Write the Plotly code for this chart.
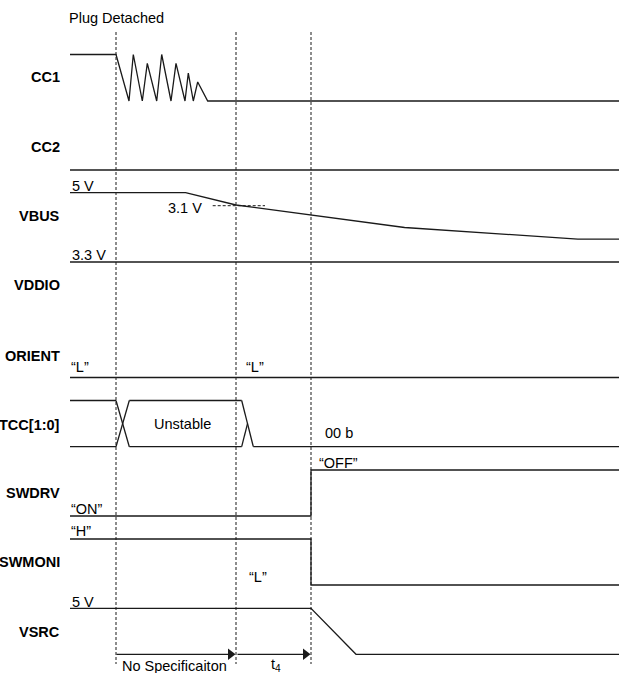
import plotly.graph_objects as go

# ---------------- data ----------------
# time markers (dashed verticals)
marker_times = [116, 236, 311]

# signal waveforms: time points and normalised levels (1 = high, 0 = low)
cc1_t = [70, 116, 129, 133.3, 142.3, 147.3, 156.7, 161.7, 171, 176, 185, 188.3, 193.3, 197.7, 207.7, 619]
cc1_lv = [1, 1, 0, 1, 0, 0.81, 0, 1, 0, 0.81, 0, 0.6, 0, 0.41, 0, 0]

cc2_t = [70, 619]
cc2_lv = [0, 0]

vbus_t = [70, 185.6, 236, 311, 404.6, 577.8, 619]
vbus_lv = [1, 1, 0.735, 0.522, 0.25, 0, 0]

vddio_t = [70, 619]
vddio_lv = [0, 0]

orient_t = [70, 619]
orient_lv = [0, 0]

tcc_t = [70, 116, None, 116, 129.3, None, 116, 129.3, None, 129.3, 241.7, None,
         70, 116, None, 129.3, 241.7, None, 241.7, 253.3, None, 241.7, 247.5, None, 253.3, 619]
tcc_lv = [1, 1, None, 1, 0, None, 0, 1, None, 1, 1, None,
          0, 0, None, 0, 0, None, 1, 0, None, 0, 0.5, None, 0, 0]

swdrv_t = [70, 311, 311, 619]
swdrv_lv = [0, 0, 1, 1]

swmoni_t = [70, 311, 311, 619]
swmoni_lv = [1, 1, 0, 0]

vsrc_t = [70, 311, 356, 619]
vsrc_lv = [1, 1, 0, 0]

vbus_ref_t = [212.7, 265]   # 3.1 V dashed reference
vbus_ref_lv = [0.72, 0.72]

# duration arrows (start, end)
arrow_start = [116.5, 237.5]
arrow_end = [235.5, 310.5]

row_names = ["CC1", "CC2", "VBUS", "VDDIO", "ORIENT", "TCC[1:0]", "SWDRV", "SWMONI", "VSRC"]

# ---------------- layout (pixel positions) ----------------
W, H = 619, 673
rows = {  # (y of high level, y of low level)
    "CC1": (54.5, 101),
    "CC2": (124, 170),
    "VBUS": (192.7, 239.1),
    "VDDIO": (216, 262),
    "ORIENT": (331, 377.5),
    "TCC[1:0]": (400.5, 446.7),
    "SWDRV": (470, 516),
    "SWMONI": (539, 585),
    "VSRC": (608.3, 654.3),
}
label_y = {"CC1": 77, "CC2": 147, "VBUS": 216, "VDDIO": 285, "ORIENT": 356,
           "TCC[1:0]": 425, "SWDRV": 493, "SWMONI": 562, "VSRC": 632}

waves = {
    "CC1": (cc1_t, cc1_lv), "CC2": (cc2_t, cc2_lv), "VBUS": (vbus_t, vbus_lv),
    "VDDIO": (vddio_t, vddio_lv), "ORIENT": (orient_t, orient_lv),
    "TCC[1:0]": (tcc_t, tcc_lv), "SWDRV": (swdrv_t, swdrv_lv),
    "SWMONI": (swmoni_t, swmoni_lv), "VSRC": (vsrc_t, vsrc_lv),
}

LINE = "#1a1a1a"
FONT = "Liberation Sans, Arial, sans-serif"
FS = 14.5
ARROW_Y = 654.3


def to_y(row, lv):
    hi, lo = rows[row]
    return [None if v is None else lo + v * (hi - lo) for v in lv]


fig = go.Figure()

# dashed time markers
for t in marker_times:
    fig.add_trace(go.Scatter(x=[t, t], y=[32, 664], mode="lines",
                             line=dict(color=LINE, width=1, dash="3px,2px"),
                             hoverinfo="skip", showlegend=False))

# waveforms
for name in row_names:
    t, lv = waves[name]
    fig.add_trace(go.Scatter(x=t, y=to_y(name, lv), mode="lines",
                             line=dict(color=LINE, width=1.3),
                             connectgaps=False, hoverinfo="skip", showlegend=False))

# 3.1 V reference dashed line
fig.add_trace(go.Scatter(x=vbus_ref_t, y=to_y("VBUS", vbus_ref_lv), mode="lines",
                         line=dict(color=LINE, width=1, dash="3px,2px"),
                         hoverinfo="skip", showlegend=False))

# duration arrows: shaft + filled triangular head
for a, b in zip(arrow_start, arrow_end):
    fig.add_trace(go.Scatter(x=[a, b - 6], y=[ARROW_Y, ARROW_Y], mode="lines",
                             line=dict(color=LINE, width=1.3),
                             hoverinfo="skip", showlegend=False))
    fig.add_trace(go.Scatter(x=[b - 5], y=[ARROW_Y], mode="markers",
                             marker=dict(symbol="triangle-right", size=10, color=LINE,
                                         line=dict(width=0)),
                             hoverinfo="skip", showlegend=False))

ann = []
# row labels
for name in row_names:
    ann.append(dict(x=62, y=label_y[name], text="<b>%s</b>" % name, xanchor="right",
                    yanchor="middle", showarrow=False, font=dict(size=FS, family=FONT, color="#000")))

texts = [
    ("Plug Detached", 67, 18, "left"),
    ("5 V", 70, 186, "left"),
    ("3.1 V", 184.5, 208, "center"),
    ("3.3 V", 70, 255, "left"),
    ("\u201cL\u201d", 69, 367, "left"),
    ("\u201cL\u201d", 244, 367, "left"),
    ("Unstable", 182.5, 424, "center"),
    ("00 b", 323, 433, "left"),
    ("\u201cOFF\u201d", 317, 463, "left"),
    ("\u201cON\u201d", 69, 509, "left"),
    ("\u201cH\u201d", 69, 531, "left"),
    ("\u201cL\u201d", 247, 577, "left"),
    ("5 V", 70, 602, "left"),
    ("No Specificaiton", 120, 666, "left"),
    ("t<sub>4</sub>", 276, 665, "center"),
]
for txt, x, y, xa in texts:
    ann.append(dict(x=x, y=y, text=txt, xanchor=xa, yanchor="middle", showarrow=False,
                    font=dict(size=FS, family=FONT, color="#000")))

fig.update_layout(
    width=W, height=H,
    margin=dict(l=0, r=0, t=0, b=0),
    paper_bgcolor="white", plot_bgcolor="white",
    xaxis=dict(range=[0, W], visible=False, fixedrange=True),
    yaxis=dict(range=[H, 0], visible=False, fixedrange=True),
    annotations=ann,
    showlegend=False,
)

fig.write_html("out.html", config={"displayModeBar": False},
               post_script="document.body.style.margin='0';document.body.style.overflow='hidden';")
